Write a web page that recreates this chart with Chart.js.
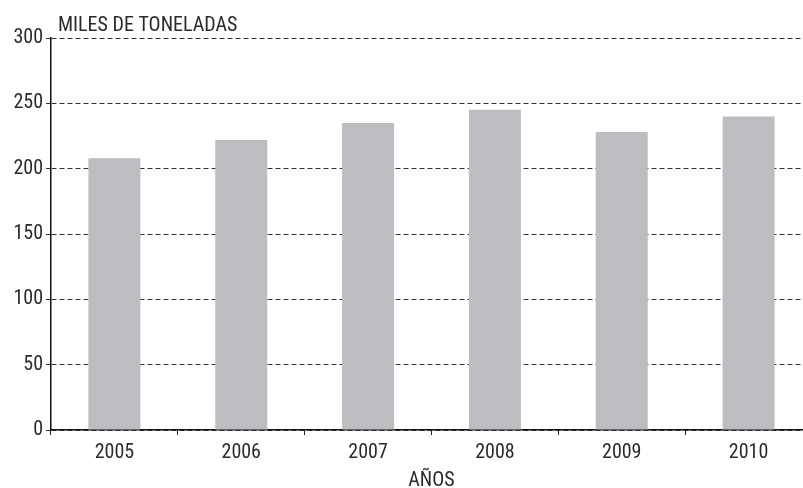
<!DOCTYPE html>
<html>
<head>
<meta charset="utf-8">
<script src="https://cdn.jsdelivr.net/npm/chart.js@4"></script>
<style>
  html, body { margin: 0; padding: 0; background: #fff; overflow: hidden; }
  #wrap { width: 812px; height: 488px; }
</style>
</head>
<body>
<div id="wrap"><canvas id="chart"></canvas></div>
<script>
const years = ["2005", "2006", "2007", "2008", "2009", "2010"];
const tonnes = [208, 222, 235, 245, 228, 240];
const yTicks = [0, 50, 100, 150, 200, 250, 300];

const FONT = "'Roboto Condensed', 'Open Sans', sans-serif";
const TEXT = "#2b2b2b";

// y axis unit drawn above the plot, left aligned
const unitLabel = {
  id: "unitLabel",
  afterDraw(chart) {
    const { ctx, chartArea } = chart;
    ctx.save();
    ctx.font = "20px " + FONT;
    ctx.fillStyle = TEXT;
    ctx.textBaseline = "alphabetic";
    ctx.fillText("MILES DE TONELADAS", chartArea.left + 7, 31);
    ctx.restore();
  }
};

new Chart(document.getElementById("chart"), {
  type: "bar",
  data: {
    labels: years,
    datasets: [{
      data: tonnes,
      backgroundColor: "#bcbdc0",
      barPercentage: 0.41,
      categoryPercentage: 1
    }]
  },
  options: {
    responsive: true,
    maintainAspectRatio: false,
    animation: false,
    layout: { padding: { top: 38, right: 0, bottom: 0, left: 0 } },
    plugins: { legend: { display: false }, tooltip: { enabled: false } },
    scales: {
      x: {
        afterFit(s) { s.height = 58; },
        grid: { drawOnChartArea: false, drawTicks: true, tickLength: 5, color: "#222" },
        border: { color: "#111", width: 1.5 },
        ticks: { font: { family: FONT, size: 20 }, color: TEXT, padding: 6 },
        title: {
          display: true, text: "AÑOS",
          font: { family: FONT, size: 20, lineHeight: 0.7 }, color: TEXT,
          padding: { top: 0, bottom: 0 }
        }
      },
      y: {
        min: 0,
        max: 300,
        afterFit(s) { s.width = 51; },
        afterBuildTicks(s) { s.ticks = yTicks.map(v => ({ value: v })); },
        grid: { color: "#333", lineWidth: 1, tickLength: 5 },
        border: { color: "#111", width: 1.5, dash: [5, 3] },
        ticks: { font: { family: FONT, size: 20 }, color: TEXT, padding: 3 }
      }
    }
  },
  plugins: [unitLabel]
});
</script>
</body>
</html>
